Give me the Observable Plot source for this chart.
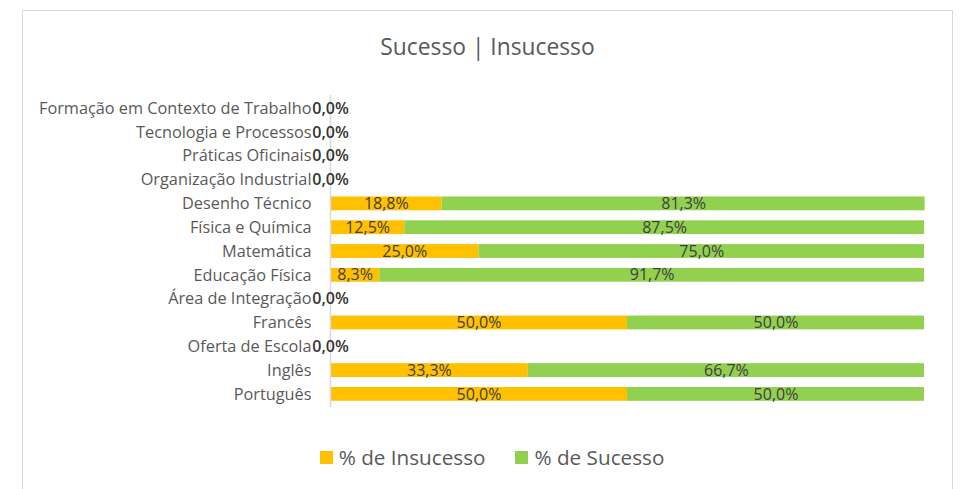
<!DOCTYPE html>
<html>
<head>
<meta charset="utf-8">
<script src="https://cdn.jsdelivr.net/npm/d3@7"></script>
<script src="https://cdn.jsdelivr.net/npm/@observablehq/plot@0.6"></script>
<style>
  html, body { margin: 0; padding: 0; background: #fff; overflow: hidden; }
  #wrap { position: relative; width: 964px; height: 489px; font-family: "Open Sans", sans-serif; }
  #frame { position: absolute; left: 22px; top: 10px; width: 931px; height: 520px; border: 1.5px solid #d9d9d9; box-sizing: border-box; }
  #title { position: absolute; left: 22px; width: 931px; top: 31px; text-align: center; font-size: 22.8px; color: #595959; }
  #chart { position: absolute; left: 0; top: 90px; line-height: 0; }
  #legend { position: absolute; top: 443px; left: 10px; width: 964px; display: flex; justify-content: center; gap: 30px; font-size: 20.7px; color: #595959; }
  .item { display: flex; align-items: center; gap: 6px; }
  .sw { width: 13px; height: 13px; display: inline-block; }
</style>
</head>
<body>
<div id="wrap">
  <div id="frame"></div>
  <div id="title">Sucesso | Insucesso</div>
  <div id="chart"></div>
  <div id="legend"></div>
</div>
<script>
const categories = [
  "Formação em Contexto de Trabalho",
  "Tecnologia e Processos",
  "Práticas Oficinais",
  "Organização Industrial",
  "Desenho Técnico",
  "Física e Química",
  "Matemática",
  "Educação Física",
  "Área de Integração",
  "Francês",
  "Oferta de Escola",
  "Inglês",
  "Português"
];
const insucesso = [0, 0, 0, 0, 18.8, 12.5, 25.0, 8.3, 0, 50.0, 0, 33.3, 50.0];
const sucesso   = [0, 0, 0, 0, 81.3, 87.5, 75.0, 91.7, 0, 50.0, 0, 66.7, 50.0];
const seriesNames = ["% de Insucesso", "% de Sucesso"];
const seriesColors = ["#FFC000", "#92D050"];

const data = [];
categories.forEach((c, i) => {
  data.push({cat: c, series: seriesNames[0], value: insucesso[i]});
  data.push({cat: c, series: seriesNames[1], value: sucesso[i]});
});
const zeroRows = categories.map((c, i) => ({cat: c, value: insucesso[i] + sucesso[i]})).filter(d => d.value === 0);
const fmt = v => v.toFixed(1).replace(".", ",") + "%";

const chart = Plot.plot({
  width: 964,
  height: 327,
  marginLeft: 330,
  marginRight: 40,
  marginTop: 5,
  marginBottom: 10,
  style: {fontFamily: "Open Sans, sans-serif", fontSize: "16px", background: "transparent"},
  x: {domain: [0, 100], axis: null},
  y: {domain: categories, paddingInner: 0.42, paddingOuter: 0.26, round: false, label: null},
  color: {domain: seriesNames, range: seriesColors},
  marks: [
    Plot.axisY({tickSize: 0, tickPadding: 19, fill: "#595959", fontSize: 16.3, label: null}),
    Plot.barX(data, Plot.stackX({x: "value", y: "cat", fill: "series", order: seriesNames})),
    Plot.text(data.filter(d => d.value > 0), Plot.stackX({x: "value", y: "cat", z: "series", order: seriesNames, text: d => fmt(d.value), fill: "#404040", fontSize: 16})),
    Plot.ruleX([0], {stroke: "#d9d9d9", strokeWidth: 1.5}),
    Plot.text(zeroRows, {x: "value", y: "cat", text: d => fmt(d.value), fill: "#333333", fontSize: 16, fontWeight: 600})
  ]
});
document.getElementById("chart").appendChild(chart);

const legend = document.getElementById("legend");
seriesNames.forEach((n, i) => {
  const it = document.createElement("div");
  it.className = "item";
  const sw = document.createElement("span");
  sw.className = "sw";
  sw.style.background = seriesColors[i];
  const t = document.createElement("span");
  t.textContent = n;
  it.appendChild(sw);
  it.appendChild(t);
  legend.appendChild(it);
});
</script>
</body>
</html>
